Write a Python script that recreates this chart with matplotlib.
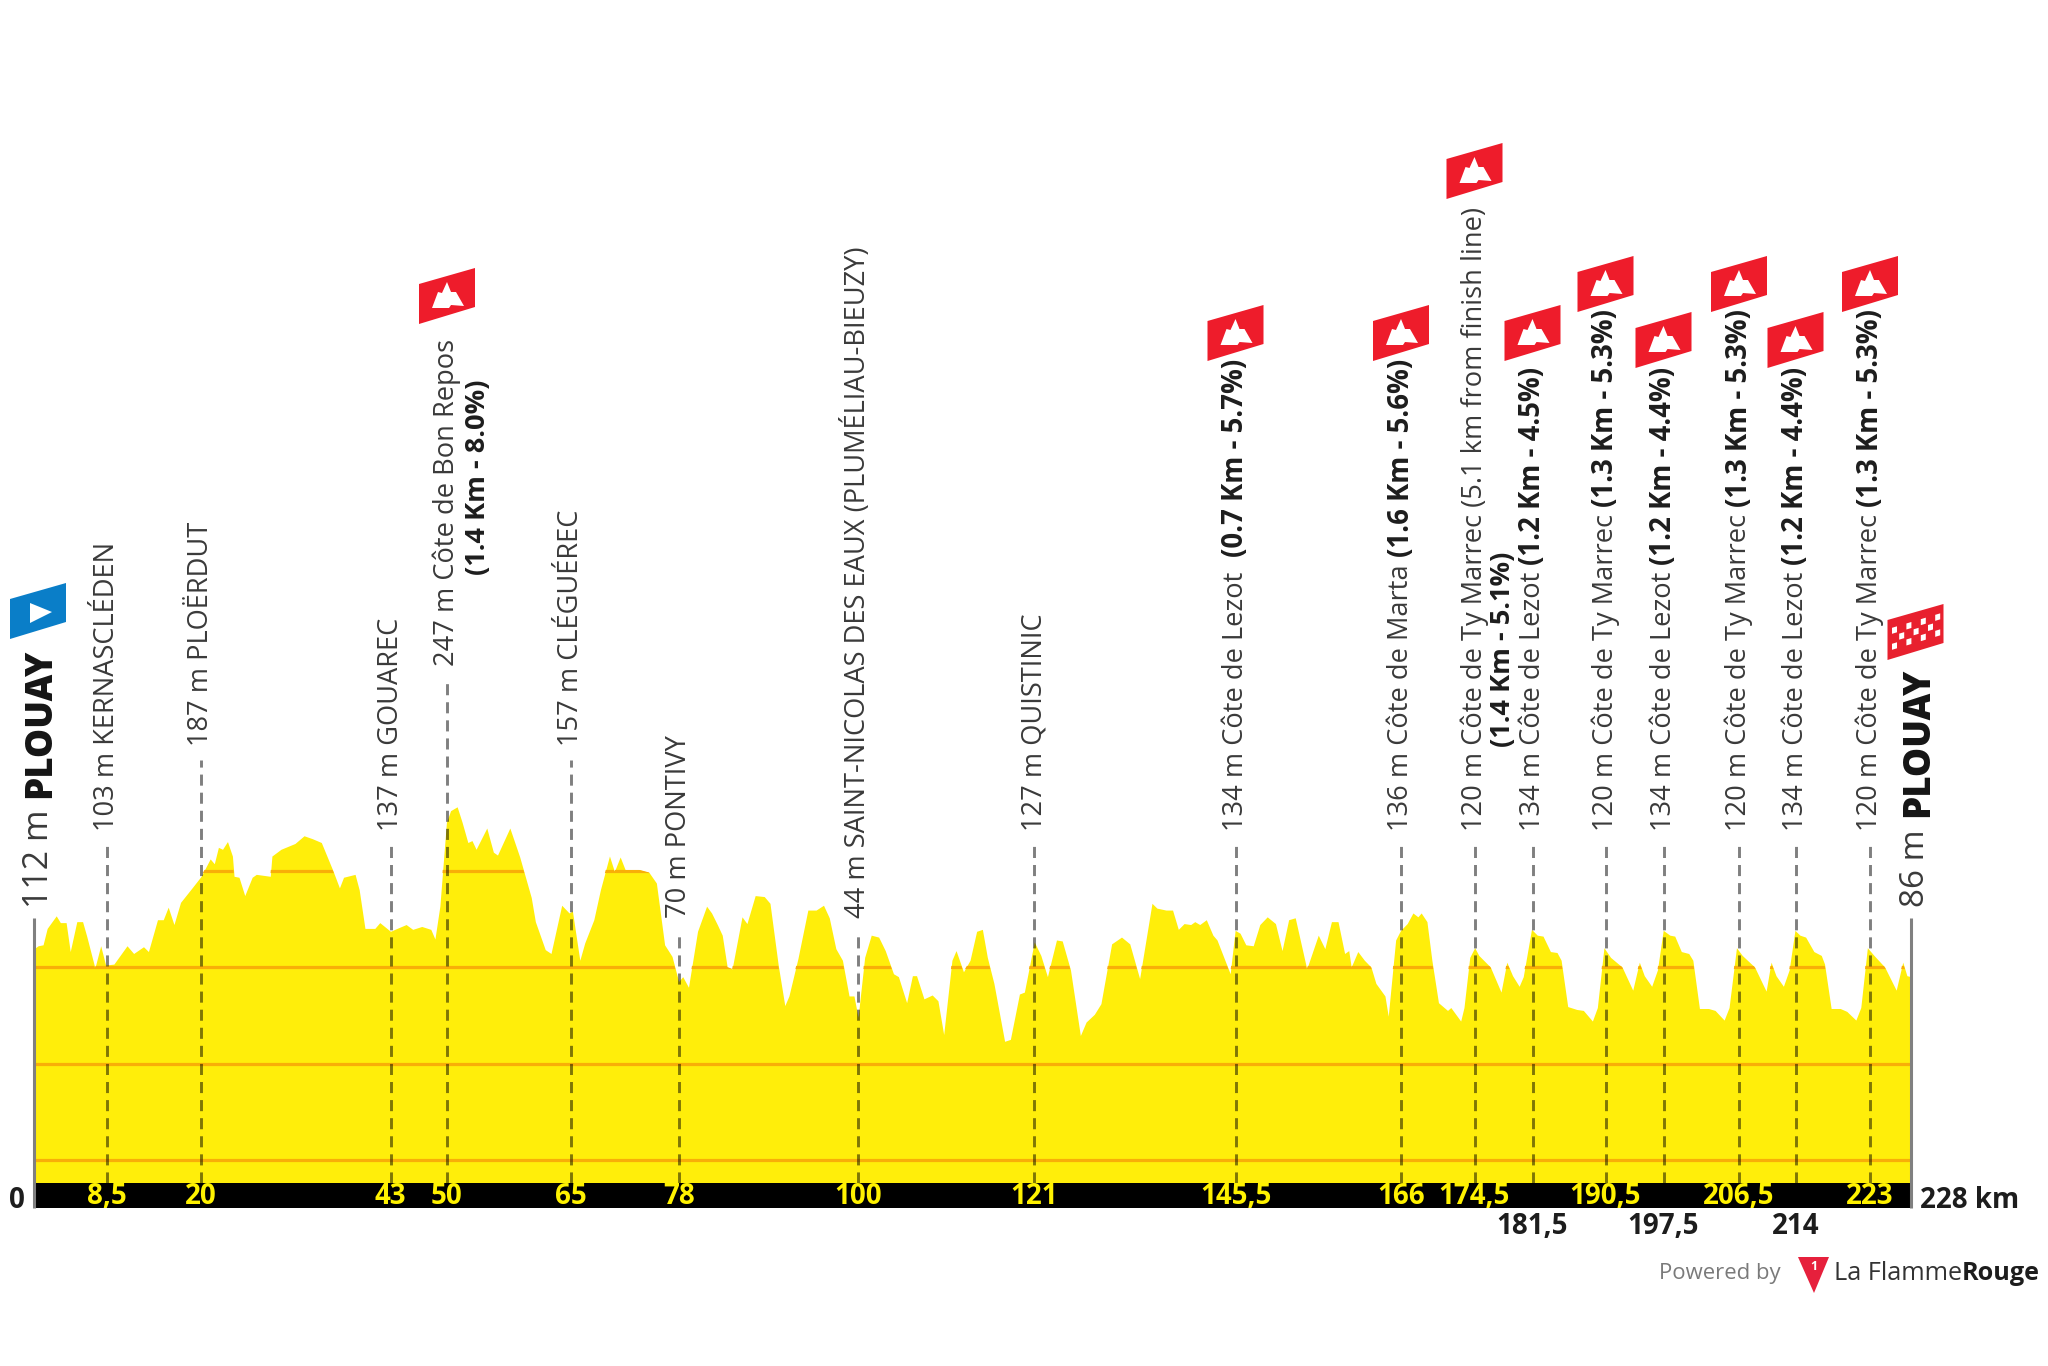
import matplotlib
matplotlib.use("Agg")
import matplotlib.pyplot as plt
from matplotlib.patches import Polygon

plt.rcParams['font.family'] = ['Open Sans', 'Noto Sans', 'DejaVu Sans']

# profile: km, metres
km_vals = [0, 0.5, 1.1, 1.6, 2.7, 3.2, 3.9, 4.4, 5.2, 5.9, 6.4, 7.4, 8.1, 8.7, 9.7, 11.3, 12.1, 13.3, 13.9, 15.0,
           15.7, 16.3, 17.0, 17.8, 19.2, 20.3, 21.4, 21.9, 22.4, 22.9, 23.5, 24.1, 24.3, 24.9, 25.6, 26.5, 27.0, 28.7, 28.9, 30.0,
           31.7, 32.8, 33.8, 34.9, 36.3, 37.1, 37.6, 39.0, 39.5, 40.2, 41.4, 42.0, 43.3, 44.1, 45.2, 46.0, 47.1, 48.2, 48.7, 49.3,
           50.1, 50.6, 51.4, 52.0, 52.7, 53.2, 53.7, 55.0, 55.8, 56.3, 57.8, 59.0, 60.4, 60.9, 62.1, 62.8, 64.1, 65.0, 65.4, 66.3,
           66.9, 68.0, 68.8, 69.9, 70.5, 71.2, 71.8, 73.4, 74.7, 75.6, 76.6, 77.5, 78.3, 78.8, 79.5,
           80.6, 81.7, 82.3, 83.0, 83.6, 84.2, 84.8, 86.0, 86.6, 87.6, 88.7, 89.4, 90.4, 91.2, 91.7, 92.8, 94.0, 95.0, 95.9, 96.6,
           97.4, 98.2, 99.0, 99.6, 100.1, 100.9, 101.7, 102.6, 103.4, 104.4, 105.0, 106.0, 106.7, 107.2, 108.1, 109.1, 109.8, 110.5, 111.5, 112.0,
           112.9, 113.7, 114.5, 115.2, 115.8, 116.6, 117.9, 118.6, 119.7, 120.3, 121.5, 122.3, 123.1, 124.2, 124.9, 125.9, 127.1, 127.8, 128.8, 129.6,
           130.9, 132.1, 133.1, 134.3, 135.8, 136.4, 137.5, 138.3, 139.0, 139.7, 140.5, 141.0, 141.6, 142.4, 143.2, 143.7, 145.3, 145.9, 146.5, 147.2,
           148.1, 148.9, 149.8, 150.8, 151.6, 152.4, 153.2, 154.6, 156.0, 156.8, 157.6, 158.4, 159.2, 159.7, 160.0, 160.8, 161.6, 162.4, 163.0,
           164.1, 164.5, 165.4, 166.0, 166.8, 167.5, 168.1, 168.5, 169.2, 169.8, 170.6, 171.7, 172.1, 173.3, 173.7, 174.4, 175.0, 175.5, 176.9, 178.2,
           178.9, 179.6, 180.4, 180.9, 181.9, 182.6, 183.3, 184.2, 185.0, 185.5, 186.3, 187.4, 188.2, 189.3, 189.9, 190.7, 191.5, 192.9, 194.2, 195.0,
           195.6, 196.5, 197.2, 197.9, 198.7, 199.3, 200.1, 201.0, 201.5, 202.3, 203.4, 204.2, 205.3, 205.9, 206.8, 207.5, 209.0, 210.4, 211.0, 211.6,
           212.5, 213.2, 213.9, 214.5, 215.2, 216.2, 217.1, 217.5, 218.3, 219.4, 220.2, 221.3, 221.9, 222.7, 223.5, 224.8, 226.2, 227.0, 227.5, 228.0]
elev_vals = [119, 122, 123, 140, 153, 146, 146, 116, 147, 147, 132, 99, 122, 102, 103, 122, 114, 121, 116, 149,
             149, 162, 144, 167, 182, 194, 212, 207, 224, 222, 230, 215, 194, 193, 174, 193, 196, 194, 215, 222,
             228, 236, 233, 229, 200, 182, 193, 196, 180, 140, 140, 146, 137, 140, 144, 139, 142, 139, 129, 163,
             250, 262, 266, 250, 229, 231, 222, 244, 219, 216, 244, 214, 172, 147, 118, 114, 164, 156, 158, 107,
             125, 149, 180, 215, 199, 214, 201, 201, 198, 187, 123, 111, 85, 90, 79,
             137, 163, 156, 144, 133, 100, 98, 152, 145, 174, 173, 166, 102, 60, 70, 109, 159, 159, 164, 151,
             119, 107, 70, 70, 48, 110, 133, 131, 117, 93, 90, 63, 91, 91, 67, 71, 65, 30, 107, 117,
             95, 107, 137, 139, 110, 83, 23, 25, 72, 74, 126, 112, 90, 128, 127, 97, 29, 43, 51, 62,
             124, 131, 124, 88, 166, 161, 159, 159, 139, 145, 144, 147, 144, 149, 133, 128, 93, 138, 135, 123,
             122, 144, 152, 145, 117, 149, 151, 98, 133, 119, 147, 147, 114, 117, 100, 116, 107, 100, 83,
             70, 49, 128, 138, 145, 156, 152, 156, 147, 107, 63, 55, 58, 44, 58, 110, 120, 112, 100, 74,
             105, 91, 80, 90, 139, 133, 132, 116, 115, 107, 59, 56, 55, 44, 58, 120, 110, 100, 76, 105,
             91, 80, 97, 138, 133, 132, 116, 114, 107, 57, 57, 55, 45, 58, 120, 112, 100, 75, 105, 91,
             80, 97, 138, 133, 131, 116, 112, 103, 57, 57, 54, 45, 58, 120, 112, 100, 76, 105, 91, 90]

grid_levels = [-100, 0, 100, 200]

# waypoints
wp_km = [8.5, 20, 43, 50, 65, 78, 100, 121, 145.5, 166, 174.5, 181.5, 190.5, 197.5, 206.5, 214, 223]
wp_km_labels = ['8,5', '20', '43', '50', '65', '78', '100', '121', '145,5', '166', '174,5', '181,5', '190,5',
                '197,5', '206,5', '214', '223']
wp_names = ['103 m KERNASCLÉDEN', '187 m PLOËRDUT', '137 m GOUAREC', '247 m Côte de Bon Repos', '157 m CLÉGUÉREC',
            '70 m PONTIVY', '44 m SAINT-NICOLAS DES EAUX (PLUMÉLIAU-BIEUZY)', '127 m QUISTINIC',
            '134 m Côte de Lezot ', '136 m Côte de Marta', '120 m Côte de Ty Marrec (5.1 km from finish line)',
            '134 m Côte de Lezot', '120 m Côte de Ty Marrec', '134 m Côte de Lezot', '120 m Côte de Ty Marrec',
            '134 m Côte de Lezot', '120 m Côte de Ty Marrec']
wp_climbs = ['', '', '', '', '', '', '', '', '(0.7 Km - 5.7%)', '(1.6 Km - 5.6%)', '', '(1.2 Km - 4.5%)',
             '(1.3 Km - 5.3%)', '(1.2 Km - 4.4%)', '(1.3 Km - 5.3%)', '(1.2 Km - 4.4%)', '(1.3 Km - 5.3%)']
wp_low_labels = ['181,5', '197,5', '214']   # km labels written under the black bar

# layout, in pixels of the 2048x1366 picture
line_x = [107, 201, 390.5, 447, 571, 679, 858, 1034, 1235.5, 1401, 1474.5, 1532.5, 1605.5, 1663.5, 1739, 1795.5, 1870]
line_tops = [845, 760, 845, 680, 760, 932, 932, 845, 845, 845, 845, 845, 845, 845, 845, 845, 845]
flag_idx = [3, 8, 9, 10, 11, 12, 13, 14, 15, 16]
flag_tops = [268, 305, 305, 143, 305, 256, 312, 256, 312, 256]

W, H = 2048, 1366
PX_KM = (1911 - 34) / 228
PX_M = 0.965
BAR_TOP, BAR_BOTTOM = 1183, 1208


def m(py):
    return 100 + (967 - py) / PX_M


def k(px):
    return (px - 34) / PX_KM


YELLOW = '#FFEE0A'
ORANGE = '#F8AE08'
RED = '#EE1C2B'
DARK = '#1d1d1d'
TEXT = '#3a3a3a'
FS = 19.6
FS_BOLD = 19.8
FS_KM = 20

fig = plt.figure(figsize=(W / 100, H / 100), dpi=100)
ax = fig.add_axes([0, 0, 1, 1])
ax.set_xlim(k(0), k(W))
ax.set_ylim(m(H), m(0))
ax.axis('off')
renderer = fig.canvas.get_renderer()

# profile
ax.fill_between(km_vals, elev_vals, m(BAR_TOP), color=YELLOW, lw=0, zorder=1)
clip = Polygon(list(zip([0] + km_vals + [228], [m(BAR_TOP)] + elev_vals + [m(BAR_TOP)])),
               transform=ax.transData, fc='none', ec='none')
ax.add_patch(clip)
for lev in grid_levels:
    ln, = ax.plot([0, 228], [lev, lev], color=ORANGE, lw=2.3, zorder=2, solid_capstyle='butt')
    ln.set_clip_path(clip)

# black km bar
ax.fill_between([0, 228], m(BAR_BOTTOM), m(BAR_TOP), color='black', lw=0, zorder=3)

# start / finish posts
for x in [0, 228]:
    ax.plot([x, x], [m(BAR_BOTTOM), m(918)], color='#808080', lw=2.2, zorder=3, solid_capstyle='butt')


def vtext(px, bottom, text, size=FS, weight='normal', color=TEXT):
    # baseline sits right of the centre line, text runs upward from bottom
    return ax.text(k(px + size * 0.38), m(bottom), text, rotation=90, rotation_mode='anchor',
                   ha='left', va='baseline', fontsize=size, fontweight=weight, color=color, zorder=6)


for i, lx in enumerate(line_x):
    ax.plot([k(lx), k(lx)], [m(BAR_TOP), m(line_tops[i])], color='black', alpha=0.5, lw=2.1, zorder=4,
            linestyle=(0, (3.8, 2.4)), dash_capstyle='butt')
    if wp_km_labels[i] in wp_low_labels:
        ax.text(k(lx), m(1227), wp_km_labels[i], color=DARK, fontsize=FS_KM, fontweight='bold', ha='center', va='center')
    else:
        ax.text(k(lx), m(1197), wp_km_labels[i], color='#FFF200', fontsize=FS_KM, fontweight='bold',
                ha='center', va='center', zorder=5)
    t = vtext(lx, line_tops[i] - 14, wp_names[i])
    if wp_climbs[i]:
        bb = t.get_window_extent(renderer)
        vtext(lx, H - bb.y1 - 7, wp_climbs[i], size=FS_BOLD, weight='bold', color=DARK)

# wrapped second lines
vtext(line_x[3] + 31, 575, '(1.4 Km - 8.0%)', size=19.6, weight='bold', color=DARK)
vtext(line_x[10] + 28, 747, '(1.4 Km - 5.1%)', size=19.6, weight='bold', color=DARK)

# start and finish names
vtext(39, 908, '112 m', size=24.5)
vtext(40, 798, 'PLOUAY', size=26.5, weight='heavy', color='#151515')
vtext(1915, 907, '86 m', size=24)
vtext(1918, 817, 'PLOUAY', size=26.5, weight='heavy', color='#151515')

ax.text(k(17), m(1201), '0', color=DARK, fontsize=FS_KM, fontweight='bold', ha='center', va='center')
ax.text(k(1920), m(1200), '228 km', color=DARK, fontsize=FS_KM, fontweight='bold', ha='left', va='center')


def flag(cx, top, color):
    # parallelogram 56 x 40 px with a 17 px rise, top is the upper right corner
    cy = top + 28
    pts = [(cx - 28, cy + 28), (cx - 28, cy - 12), (cx + 28, cy - 28), (cx + 28, cy + 11)]
    ax.add_patch(Polygon([(k(a), m(b)) for a, b in pts], closed=True, fc=color, ec='none', zorder=5))
    return cy


mountain = [(-15, 12), (-9, -4), (-5, -3), (0, -14), (4, -4), (9, -4), (17, 10), (4, 9), (2, 12)]
for i, top in zip(flag_idx, flag_tops):
    cx = line_x[i]
    cy = flag(cx, top, RED)
    ax.add_patch(Polygon([(k(cx + a), m(cy + b)) for a, b in mountain], closed=True, fc='white', ec='none', zorder=6))

# start flag
cy = flag(38, 583, '#0A7EC8')
ax.add_patch(Polygon([(k(38 + a), m(cy + b)) for a, b in [(-8, -8), (14, 1), (-8, 12)]], closed=True,
                     fc='white', ec='none', zorder=6))

# finish flag with checks
cx_f = 1915.5
cy = flag(cx_f, 604, '#E8202E')
for r in range(3):
    for c in range(7):
        if (r + c) % 2 == 0:
            sx = cx_f - 21 + c * 7.2
            sy = cy - 8 + r * 8 - (c * 7.2 - 21) * 0.3
            sq = [(sx - 2.5, sy - 2.5), (sx + 2.5, sy - 4), (sx + 2.5, sy + 2), (sx - 2.5, sy + 3.5)]
            ax.add_patch(Polygon([(k(a), m(b)) for a, b in sq], closed=True, fc='white', ec='none', zorder=6))

# powered by
ax.text(k(1659), m(1274), 'Powered by', color='#7a7a7a', fontsize=15.9, ha='left', va='center')
ax.add_patch(Polygon([(k(1798), m(1257)), (k(1829), m(1257)), (k(1814), m(1293))], closed=True, fc='#E6203C',
                     ec='none', zorder=5))
ax.text(k(1813.5), m(1266), '1', color='white', fontsize=9, fontweight='bold', ha='center', va='center', zorder=6)
t = ax.text(k(1834), m(1274), 'La Flamme', color='#333333', fontsize=18.2, ha='left', va='center')
bb = t.get_window_extent(renderer)
ax.text(k(bb.x1), m(1274), 'Rouge', color=DARK, fontsize=18.2, fontweight='bold', ha='left', va='center')

fig.savefig('out.png', dpi=100, facecolor='white')
